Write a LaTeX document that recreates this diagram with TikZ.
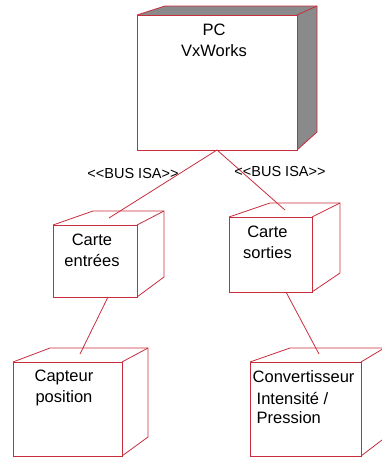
\documentclass[tikz,border=0pt]{standalone}
\usepackage{fontspec}
\setmainfont{Liberation Sans}
\definecolor{boxred}{RGB}{200,45,60}
\definecolor{sidegray}{RGB}{138,138,140}
\begin{document}
\begin{tikzpicture}[x=1pt,y=-1pt,
  edge/.style={draw=boxred, line width=0.8pt},
  face/.style={draw=boxred, line width=1pt, fill=white, inner sep=0pt, outer sep=0pt},
  lbl/.style={font=\fontsize{16.5}{21}\selectfont, align=center, inner sep=0pt},
  lbll/.style={font=\fontsize{16.5}{21}\selectfont, align=left, inner sep=0pt, anchor=west},
  bus/.style={font=\fontsize{14.5}{17}\selectfont, inner sep=0pt}]
\useasboundingbox (0,0) rectangle (382,459);
\clip (0,0) rectangle (382,459);
% PC
\fill[sidegray] (137,15) -- (165,6) -- (317,6) -- (317,132) -- (297,150) -- (297,15) -- cycle;
\draw[edge] (137,15) -- (165,6) -- (317,6) -- (317,132) -- (297,150);
\draw[edge] (317,6) -- (297,15);
\node[face, minimum width=160pt, minimum height=135pt] (pc) at (217,82.5) {};
\node[lbl] (pct) at (214,40) {PC\\VxWorks};
% Carte entrees
\draw[edge] (53,225) -- (93,211) -- (164,211) -- (164,277) -- (137,297);
\draw[edge] (164,211) -- (137,225);
\node[face, minimum width=84pt, minimum height=72pt] (ce) at (95,261) {};
\node[lbl] (cet) at (92,250) {Carte\\entrées};
% Carte sorties
\draw[edge] (229,217) -- (270,203) -- (340,203) -- (340,273) -- (312,292);
\draw[edge] (340,203) -- (312,217);
\node[face, minimum width=83pt, minimum height=75pt] (cs) at (270.5,254.5) {};
\node[lbl] (cst) at (267.5,242) {Carte\\sorties};
% Capteur
\draw[edge] (13,362) -- (50,348) -- (148,348) -- (148,437) -- (122,456);
\draw[edge] (148,348) -- (122,362);
\node[face, minimum width=109pt, minimum height=94pt] (cp) at (67.5,409) {};
\node[lbl] (cpt) at (64,388) {Capteur\\position};
% Convertisseur
\draw[edge] (250,362) -- (290,348) -- (386,348) -- (386,437) -- (361,456);
\draw[edge] (386,347) -- (361,362);
\node[face, minimum width=111pt, minimum height=94pt] (cv) at (305.5,409) {};
\node[lbll] (cvt1) at (252.5,377) {Convertisseur};
\node[lbll] (cvt2) at (256.5,398) {Intensité /};
\node[lbll] (cvt3) at (256.5,418) {Pression};
% connectors
\coordinate (ceTop) at (109,218);
\coordinate (csTop) at (285,210);
\coordinate (cpTop) at (80,354);
\coordinate (cvTop) at (319,354);
\draw[edge] (pc.south) -- (ceTop);
\draw[edge] (pc.south) -- (csTop);
\draw[edge] (ce.south) ++(13,0) coordinate (ceB) -- (cpTop);
\draw[edge] (cs.south) ++(15.5,0) coordinate (csB) -- (cvTop);
\node[bus] (bus1) at (133,174) {<{}<BUS ISA>{}>};
\node[bus] (bus2) at (280,172) {<{}<BUS ISA>{}>};
\end{tikzpicture}
\end{document}
